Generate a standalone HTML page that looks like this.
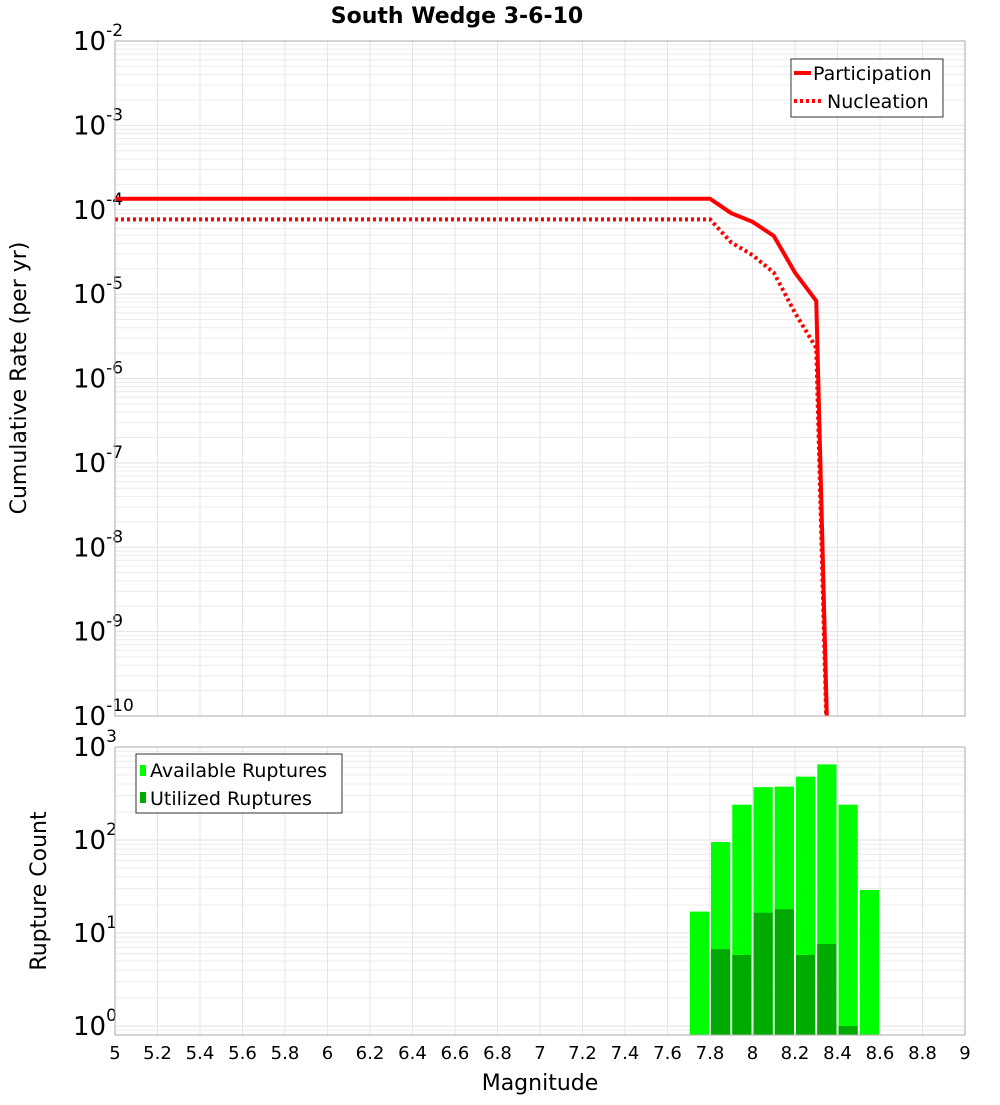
<!DOCTYPE html>
<html><head><meta charset="utf-8"><style>
body{margin:0;background:#fff;font-family:"Liberation Sans","DejaVu Sans",sans-serif}
svg text{font-family:"DejaVu Sans","Liberation Sans",sans-serif}
</style></head><body>
<svg id="c" width="1000" height="1100" xmlns="http://www.w3.org/2000/svg">
<text x="457" y="23" text-anchor="middle" font-size="22" font-weight="bold">South Wedge 3-6-10</text>
<g id="top"></g>
<g id="bot"></g>
<text transform="translate(26,378) rotate(-90)" text-anchor="middle" font-size="22">Cumulative Rate (per yr)</text>
<text transform="translate(46,891) rotate(-90)" text-anchor="middle" font-size="22">Rupture Count</text>
<text x="540" y="1090" text-anchor="middle" font-size="22">Magnitude</text>
</svg>
<script>
const mags=[5,7.8,7.9,8.0,8.1,8.2,8.3,8.4];
const partic=[1.35e-4,1.35e-4,9.1e-5,7.2e-5,4.9e-5,1.8e-5,8.3e-6,1e-15];
const nucl=[7.7e-5,7.7e-5,4.1e-5,2.9e-5,1.8e-5,6e-6,2.3e-6,1e-15];
const binMags=[7.7,7.8,7.9,8.0,8.1,8.2,8.3,8.4,8.5];
const available=[17,95,240,370,375,480,650,240,29];
const utilized=[0,6.7,5.8,16.5,18,5.8,7.6,1,0];
const xTicks=[5,5.2,5.4,5.6,5.8,6,6.2,6.4,6.6,6.8,7,7.2,7.4,7.6,7.8,8,8.2,8.4,8.6,8.8,9];

const NS='http://www.w3.org/2000/svg';
function mk(tag,attrs,parent){const e=document.createElementNS(NS,tag);for(const k in attrs)e.setAttribute(k,attrs[k]);parent.appendChild(e);return e;}
const X0=115,X1=965;
const xs=m=>X0+(m-5)/4*(X1-X0);
const T0=41,T1=716;
const yTop=v=>T0+(-2-Math.log10(v))*(T1-T0)/8;
const B0=747,B1=1035,BD=93,BZ=1026;
const yBot=v=>BZ-Math.log10(v)*BD;
const topG=document.getElementById('top'),botG=document.getElementById('bot');

function grid(g,y0,y1,yf,dmin,dmax){
  for(let d=dmin;d<dmax;d++)for(let k=1;k<10;k++){const y=yf(k*Math.pow(10,d));if(y<y0-0.5||y>y1+0.5)continue;
    const l=mk('line',{x1:X0,x2:X1,y1:y,y2:y,stroke:k==1?'#e2e2e2':'#ececec','stroke-width':1},g);
    
    }
  xTicks.forEach(m=>{const l=mk('line',{x1:xs(m),x2:xs(m),y1:y0,y2:y1,stroke:'#e6e6e6','stroke-width':1},g);
    
    });
}
function ylab(g,y,exp){const tt=mk('text',{x:73,y:y+9,'font-size':26},g);
  
  
  tt.appendChild(document.createTextNode('10'));
  const s=mk('tspan',{dy:-14,'font-size':17},tt);s.textContent=String(exp);}

grid(topG,T0,T1,yTop,-10,-2);
for(let e=-2;e>=-10;e--)ylab(topG,yTop(Math.pow(10,e)),e);
const cp=mk('clipPath',{id:'cpt'},topG);mk('rect',{x:X0,y:T0,width:X1-X0,height:T1-T0},cp);
function line(arr,dash,name){const p=mk('polyline',{points:mags.map((m,i)=>xs(m)+','+yTop(arr[i])).join(' '),fill:'none',stroke:'#ff0000','stroke-width':4,'clip-path':'url(#cpt)'},topG);
  if(dash)p.setAttribute('stroke-dasharray','3,3');
  
  }
line(partic,false,'participation-line');
line(nucl,true,'nucleation-line');
const fr=mk('rect',{x:X0,y:T0,width:X1-X0,height:T1-T0,fill:'none',stroke:'#aaa'},topG);


const lg=mk('g',{},topG);


mk('rect',{x:791,y:59,width:152,height:58,fill:'#fff',stroke:'#333'},lg);
mk('line',{x1:794,x2:811,y1:73,y2:73,stroke:'#f00','stroke-width':4},lg);
mk('line',{x1:794,x2:822,y1:101,y2:101,stroke:'#f00','stroke-width':4,'stroke-dasharray':'3,3'},lg);
let t=mk('text',{x:813,y:80,'font-size':19},lg);t.textContent='Participation';


t=mk('text',{x:827,y:108,'font-size':19},lg);t.textContent='Nucleation';



grid(botG,B0,B1,yBot,-1,3);
for(let e=0;e<=3;e++)ylab(botG,yBot(Math.pow(10,e)),e);
binMags.forEach((m,i)=>{
  const xa=xs(m)+1,w=xs(m+0.1)-xs(m)-2;
  const r=mk('rect',{x:xa,y:yBot(available[i]),width:w,height:B1-yBot(available[i]),fill:'#00ff00'},botG);
  
  
  if(utilized[i]>0){const yy=Math.min(yBot(utilized[i]),B1);
    const u=mk('rect',{x:xa,y:yy,width:w,height:B1-yy,fill:'#00aa00'},botG);
    
    }
});
const fb=mk('rect',{x:X0,y:B0,width:X1-X0,height:B1-B0,fill:'none',stroke:'#aaa'},botG);


xTicks.forEach(m=>{const tx=mk('text',{x:xs(m),y:1059,'text-anchor':'middle','font-size':18},botG);tx.textContent=String(m);
  
  });
const lb=mk('g',{},botG);


mk('rect',{x:136,y:754,width:206,height:59,fill:'#fff',stroke:'#333'},lb);
mk('rect',{x:140,y:765,width:6,height:11,fill:'#00ff00'},lb);
mk('rect',{x:140,y:792,width:6,height:11,fill:'#00aa00'},lb);
t=mk('text',{x:150,y:777,'font-size':19},lb);t.textContent='Available Ruptures';


t=mk('text',{x:150,y:805,'font-size':19},lb);t.textContent='Utilized Ruptures';


</script>
</body></html>
